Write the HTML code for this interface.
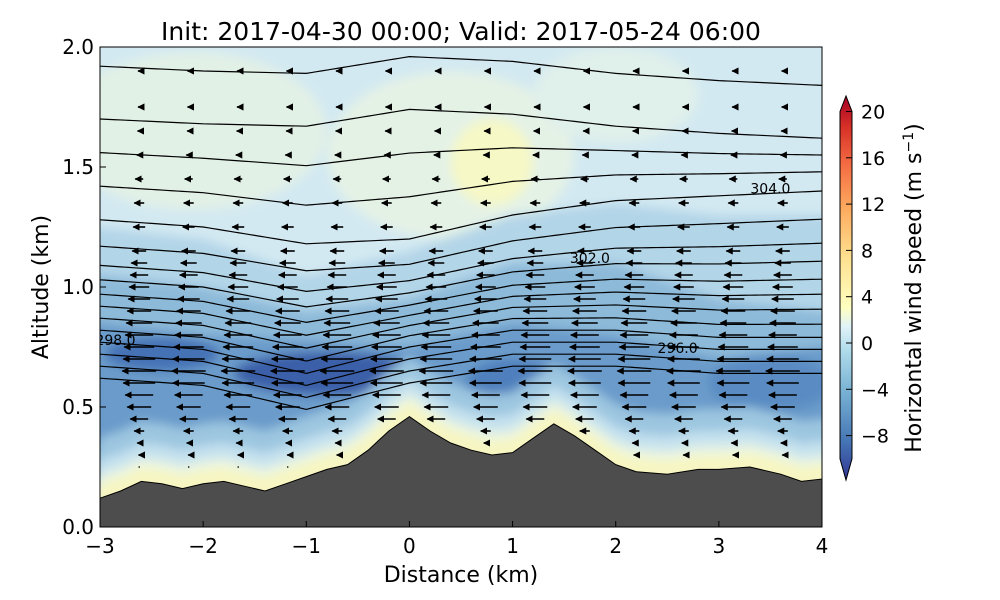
<!DOCTYPE html>
<html><head><meta charset="utf-8"><style>
body{margin:0;background:#fff;}
svg{display:block;font-family:"DejaVu Sans","Liberation Sans",sans-serif;}
</style></head><body>
<svg id="chart" width="1000" height="600" viewBox="0 0 1000 600" xmlns="http://www.w3.org/2000/svg">
<defs>
<clipPath id="plotclip"><rect x="100" y="47" width="722" height="480"/></clipPath>
<filter id="blur" x="-10%" y="-10%" width="120%" height="120%"><feGaussianBlur stdDeviation="5"/></filter>
<marker id="ah" viewBox="0 0 10 10" refX="9" refY="5" markerWidth="4.5" markerHeight="4.5" orient="auto" markerUnits="strokeWidth"><path d="M0,0 L10,5 L0,10 z" fill="#000"/></marker>
<linearGradient id="cbar" x1="0" y1="1" x2="0" y2="0">
<stop offset="0" stop-color="#313695"/><stop offset="0.1" stop-color="#4575b4"/><stop offset="0.22" stop-color="#74add1"/>
<stop offset="0.33" stop-color="#abd9e9"/><stop offset="0.4" stop-color="#e0f3f8"/><stop offset="0.45" stop-color="#ffffbf"/>
<stop offset="0.58" stop-color="#fee090"/><stop offset="0.7" stop-color="#fdae61"/><stop offset="0.82" stop-color="#f46d43"/>
<stop offset="0.92" stop-color="#d73027"/><stop offset="1" stop-color="#a50026"/></linearGradient>
</defs>
<text x="461" y="40" font-size="25" text-anchor="middle">Init: 2017-04-30 00:00; Valid: 2017-05-24 06:00</text>
<g id="bg" clip-path="url(#plotclip)"><g id="bgInner" filter="url(#blur)"></g></g>
<g id="contours" clip-path="url(#plotclip)"></g>
<g id="arrows" clip-path="url(#plotclip)"></g>
<g id="terrain"></g>
<rect x="100" y="47" width="722" height="480" fill="none" stroke="#000" stroke-width="1"/>
<g id="axes"></g>
<g id="colorbar"></g>
</svg>
<script>
const NS="http://www.w3.org/2000/svg";
// data arrays
const terrainX=[-3,-2.8,-2.6,-2.4,-2.2,-2,-1.8,-1.6,-1.4,-1.2,-1,-0.8,-0.6,-0.4,-0.2,0,0.2,0.4,0.6,0.8,1,1.2,1.4,1.6,1.8,2,2.2,2.5,2.8,3,3.3,3.6,3.8,4];
const terrainH=[0.12,0.15,0.19,0.18,0.16,0.18,0.19,0.17,0.15,0.18,0.21,0.24,0.26,0.32,0.40,0.46,0.40,0.35,0.32,0.30,0.31,0.37,0.43,0.38,0.32,0.26,0.23,0.22,0.24,0.24,0.25,0.22,0.19,0.20];
const bandX=[-3,-2,-1,0,1,2,3,4];
const band1=[1.25,1.2,1.05,1.15,1.3,1.35,1.3,1.3];
const band2=[1.05,1.0,0.9,0.95,1.1,1.1,0.95,0.9];
const band3=[0.85,0.8,0.78,0.75,0.85,0.8,0.7,0.75];
const thetaBase=[0.62,0.67,0.72,0.77,0.82,0.87,0.92,0.97,1.03,1.09,1.17,1.28,1.42,1.56,1.70,1.92];
const lowDeform=[0,-0.03,-0.13,-0.02,0.05,0.05,0.02,0.02];
const midDeform=[0,-0.03,-0.1,-0.08,0.02,0.08,0.1,0.12];
const highDeform=[0,-0.02,-0.03,0.04,0.02,-0.03,-0.06,-0.08];
const arrowCols=[-2.62,-2.14,-1.66,-1.18,-0.70,-0.22,0.26,0.74,1.22,1.70,2.18,2.66,3.14,3.62];
const arrowLevels=[0.25,0.3,0.35,0.4,0.45,0.5,0.55,0.6,0.65,0.7,0.75,0.8,0.85,0.9,0.95,1.0,1.05,1.1,1.15,1.25,1.35,1.45,1.55,1.65,1.75,1.9];
const windU=[0,-0.3,-1,-2.5,-4.5,-6,-7,-8,-8.5,-8,-7.5,-7,-6.5,-6,-5.5,-5,-4.5,-4,-3.5,-3,-2.5,-2,-1.2,-0.8,-0.6,-0.6];
const cbTicks=[20,16,12,8,4,0,-4,-8];
const xTicks=[-3,-2,-1,0,1,2,3,4];
const yTicks=[0.0,0.5,1.0,1.5,2.0];
const thetaLabels=[["298.0",-2.85,0.78],["302.0",1.75,1.12],["304.0",3.5,1.41],["296.0",2.6,0.745]];

const X=d=>100+(d+3)*722/7, Y=a=>527-a*240;
function interp(xs,ys,x){if(x<=xs[0])return ys[0];for(let i=1;i<xs.length;i++){if(x<=xs[i]){const t=(x-xs[i-1])/(xs[i]-xs[i-1]);return ys[i-1]+t*(ys[i]-ys[i-1]);}}return ys[ys.length-1];}
const terr=x=>interp(terrainX,terrainH,x);
function mk(tag,attrs,parent){const e=document.createElementNS(NS,tag);for(const k in attrs)e.setAttribute(k,attrs[k]);parent.appendChild(e);return e;}
const steps=[];for(let i=0;i<=140;i++)steps.push(-3+i*7/140);

// background
const bg=document.getElementById('bgInner');
let e;
e=mk('rect',{x:80,y:30,width:760,height:520,fill:'#d3e9f2'},bg);


[[-2.1,1.65,1.3,0.33,'#e2f1e6'],[0.4,1.55,1.2,0.35,'#e4f2e6'],[0.8,1.52,0.4,0.18,'#f6f8c6'],[2.0,1.8,0.8,0.2,'#e0f0ea']].forEach(p=>{
 e=mk('ellipse',{cx:X(p[0]),cy:Y(p[1]),rx:p[2]*103,ry:p[3]*240,fill:p[4]},bg);
 
 
});
function bandPath(arr){let d='M'+X(-3.3)+','+Y(interp(bandX,arr,-3));steps.forEach(s=>d+=' L'+X(s)+','+Y(interp(bandX,arr,s)));d+=' L'+X(4.3)+','+Y(interp(bandX,arr,4))+' L'+X(4.3)+',560 L'+X(-3.3)+',560 Z';return d;}
[[band1,'#b3d5e8'],[band2,'#8dbad9'],[band3,'#6a9bca']].forEach(b=>{
 e=mk('path',{d:bandPath(b[0]),fill:b[1]},bg);
 
 
});
[[-0.8,0.64,0.9,0.09,'#3a5ea8'],[-2.4,0.72,0.55,0.07,'#4472b5'],[3.5,0.6,0.6,0.12,'#5a8cc3'],[1.0,0.6,0.45,0.1,'#5080bd']].forEach(p=>{
 e=mk('ellipse',{cx:X(p[0]),cy:Y(p[1]),rx:p[2]*103,ry:p[3]*240,fill:p[4]},bg);
 
 
});
function groundBand(off){let d='M'+X(-3.3)+',560';steps.forEach(s=>d+=' L'+X(s)+','+Y(terr(s)+off));d+=' L'+X(4.3)+','+Y(terr(4)+off)+' L'+X(4.3)+',560 Z';return d;}
[[0.25,'#9cc6e0'],[0.16,'#c4e1ee'],[0.1,'#e8f4e4'],[0.06,'#f7f6c2']].forEach(b=>{
 e=mk('path',{d:groundBand(b[0]),fill:b[1]},bg);
 
 
});

// contours
const cg=document.getElementById('contours');
thetaBase.forEach(b=>{
 const w1=Math.min(1,Math.max(0,(b-0.8)/0.4));
 const w2=Math.min(1,Math.max(0,(b-1.3)/0.4));
 let d='';
 steps.forEach((s,j)=>{
  const lo=interp(bandX,lowDeform,s), mi=interp(bandX,midDeform,s), hi=interp(bandX,highDeform,s);
  const def=(1-w1)*lo+w1*((1-w2)*mi+w2*hi);
  let a=b+def;a=Math.max(a,terr(s)+0.06);d+=(j?' L':'M')+X(s)+','+Y(a);});
 e=mk('path',{d:d,fill:'none',stroke:'#000','stroke-width':1.2},cg);
 
 
});
thetaLabels.forEach(l=>{
 e=mk('text',{x:X(l[1]),y:Y(l[2])+5,'font-size':14,'text-anchor':'middle'},cg);
 e.textContent=l[0];
 
 
});

// arrows
const ag=document.getElementById('arrows');
arrowCols.forEach(c=>{
 arrowLevels.forEach((lv,k)=>{
  if(lv<terr(c)+0.04)return;
  const u=windU[k]*4;
  const x0=X(c), y0=Y(lv);
  if(Math.abs(u)<1){
   e=mk('circle',{cx:x0,cy:y0,r:0.8,fill:'#000'},ag);
  } else {
   e=mk('line',{x1:x0-u/2,y1:y0,x2:x0+u/2,y2:y0,stroke:'#000','stroke-width':1.6,'marker-end':'url(#ah)'},ag);
  }
  
  
 });
});

// terrain
const tg=document.getElementById('terrain');
let td='M100,527';terrainX.forEach((x,i)=>td+=' L'+X(x)+','+Y(terrainH[i]));td+=' L822,527 Z';
e=mk('path',{d:td,fill:'#4d4d4d',stroke:'#000','stroke-width':1},tg);



// axes
const ax=document.getElementById('axes');
xTicks.forEach(t=>{
 mk('line',{x1:X(t),y1:527,x2:X(t),y2:521,stroke:'#000'},ax);
 e=mk('text',{x:X(t),y:553,'font-size':20,'text-anchor':'middle'},ax);e.textContent=t<0?'\u2212'+(-t):t;
 
 
});
yTicks.forEach(t=>{
 mk('line',{x1:100,y1:Y(t),x2:106,y2:Y(t),stroke:'#000'},ax);
 e=mk('text',{x:94,y:Y(t)+7,'font-size':20,'text-anchor':'end'},ax);e.textContent=t.toFixed(1);
 
 
});
e=mk('text',{x:461,y:582,'font-size':22,'text-anchor':'middle'},ax);e.textContent='Distance (km)';


e=mk('text',{x:48,y:287,'font-size':22,'text-anchor':'middle',transform:'rotate(-90 48 287)'},ax);e.textContent='Altitude (km)';



// colorbar
const cb=document.getElementById('colorbar');
const CB=v=>343-v*(46.3/4);
e=mk('path',{d:`M840,${CB(20)} L846,96 L852,${CB(20)} L852,${CB(-10)} L846,480 L840,${CB(-10)} Z`,fill:'url(#cbar)',stroke:'#000','stroke-width':1},cb);


cbTicks.forEach(t=>{
 mk('line',{x1:846,y1:CB(t),x2:852,y2:CB(t),stroke:'#000'},cb);
 e=mk('text',{x:861,y:CB(t)+7,'font-size':19},cb);e.textContent=t<0?'\u2212'+(-t):t;
 
 
});
e=mk('text',{x:921,y:288,'font-size':22,'text-anchor':'middle',transform:'rotate(-90 921 288)'},cb);
e.innerHTML='Horizontal wind speed (m s<tspan dy="-8" font-size="14">\u22121</tspan><tspan dy="8">)</tspan>';


</script>
</body></html>
